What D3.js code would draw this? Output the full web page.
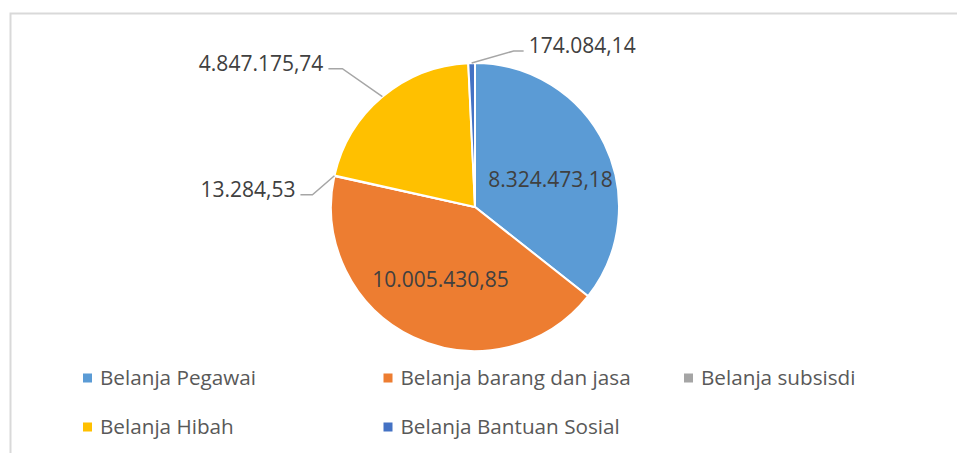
<!DOCTYPE html>
<html>
<head>
<meta charset="utf-8">
<script src="https://cdn.jsdelivr.net/npm/d3@7"></script>
<style>
  body { margin: 0; background: #fff; }
  text { font-family: "Open Sans", sans-serif; }
</style>
</head>
<body>
<script>
// data
const categories = ['Belanja Pegawai', 'Belanja barang dan jasa', 'Belanja subsisdi', 'Belanja Hibah', 'Belanja Bantuan Sosial']
const values = [8324473.18, 10005430.85, 13284.53, 4847175.74, 174084.14]
const valueLabels = ['8.324.473,18', '10.005.430,85', '13.284,53', '4.847.175,74', '174.084,14']
const colors = ['#5b9bd5', '#ed7d31', '#a5a5a5', '#ffc000', '#4472c4']

// where Excel pushed the outside labels (elbow offset from slice edge)
const outsideLabels = {
    'Belanja subsisdi': {elbow: [-22, 19], run: -12},
    'Belanja Hibah': {elbow: [-40, -28], run: -14},
    'Belanja Bantuan Sosial': {elbow: [42, -12], run: 10}
}
const insideNudge = {'Belanja Pegawai': [3, 8]}

const width = 957
const height = 453
const cx = 475
const cy = 207
const radius = 144

const svg = d3.select('body').append('svg').attr('width', width).attr('height', height)

svg.append('rect')
    .attr('x', 10.5).attr('y', 13.5)
    .attr('width', 1000).attr('height', 500)
    .attr('fill', 'none').attr('stroke', '#d9d9d9').attr('stroke-width', 2)

const rows = categories.map((c, i) => ({name: c, value: values[i], label: valueLabels[i], color: colors[i]}))

const pie = d3.pie().sort(null).value(d => d.value)
const arcs = pie(rows)
const arc = d3.arc().innerRadius(0).outerRadius(radius)
const edgeArc = d3.arc().innerRadius(radius).outerRadius(radius)
const labelArc = d3.arc().innerRadius(radius * 0.56).outerRadius(radius * 0.56)

const g = svg.append('g').attr('transform', `translate(${cx},${cy})`)

g.selectAll('path.slice')
    .data(arcs)
    .enter()
    .append('path')
    .attr('class', 'slice')
    .attr('d', arc)
    .attr('fill', d => d.data.color)
    .attr('stroke', '#fff')
    .attr('stroke-width', 2)

// inside labels for the big slices
g.selectAll('text.inside')
    .data(arcs.filter(d => !outsideLabels[d.data.name]))
    .enter()
    .append('text')
    .attr('class', 'inside')
    .attr('transform', d => {
        const c = labelArc.centroid(d)
        const n = insideNudge[d.data.name] || [0, 0]
        return `translate(${c[0] + n[0]},${c[1] + n[1]})`
    })
    .attr('text-anchor', 'middle')
    .attr('dy', '0.35em')
    .attr('font-size', 21)
    .attr('fill', '#404040')
    .text(d => d.data.label)

// outside labels with leader lines
const outside = arcs.filter(d => outsideLabels[d.data.name])

outside.forEach(d => {
    const cfg = outsideLabels[d.data.name]
    const p0 = edgeArc.centroid(d)
    const p1 = [p0[0] + cfg.elbow[0], p0[1] + cfg.elbow[1]]
    const p2 = [p1[0] + cfg.run, p1[1]]
    g.append('polyline')
        .attr('points', [p0, p1, p2].map(p => p.join(',')).join(' '))
        .attr('fill', 'none')
        .attr('stroke', '#a6a6a6')
        .attr('stroke-width', 1.5)
    const right = cfg.run > 0
    g.append('text')
        .attr('x', p2[0] + (right ? 5 : -5))
        .attr('y', p2[1] - 5)
        .attr('dy', '0.35em')
        .attr('text-anchor', right ? 'start' : 'end')
        .attr('font-size', 21)
        .attr('fill', '#404040')
        .text(d.data.label)
})

// legend
const legendX = d3.scalePoint().domain([0, 1, 2]).range([83, 684])
const legendY = d3.scalePoint().domain([0, 1]).range([378, 427])

const legend = svg.append('g')
    .selectAll('g')
    .data(rows)
    .enter()
    .append('g')
    .attr('transform', (d, i) => `translate(${legendX(i % 3)},${legendY(Math.floor(i / 3))})`)

legend.append('rect')
    .attr('x', 0).attr('y', -4.5)
    .attr('width', 9).attr('height', 9)
    .attr('fill', d => d.color)

legend.append('text')
    .attr('x', 17)
    .attr('dy', '0.35em')
    .attr('font-size', 20.7)
    .attr('fill', '#595959')
    .text(d => d.name)
</script>
</body>
</html>
